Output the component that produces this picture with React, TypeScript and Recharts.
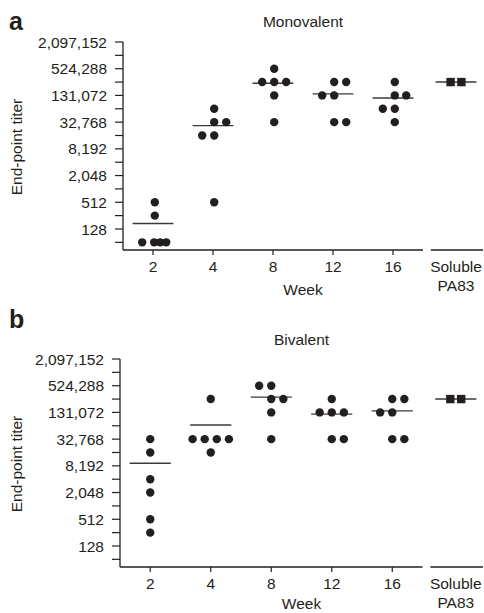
import React from 'react';
import { ScatterChart, Scatter, XAxis, YAxis, ReferenceLine } from 'recharts';

const weekLabels = ['2', '4', '8', '12', '16'];
const solubleLabel = ['Soluble', 'PA83'];
const solubleX = 5.05;

const yTickValues = [
  64, 128, 256, 512, 1024, 2048, 4096, 8192, 16384, 32768, 65536, 131072,
  262144, 524288, 1048576, 2097152,
];
const yTickLabels = [128, 512, 2048, 8192, 32768, 131072, 524288, 2097152];

// end-point titers per week group (2, 4, 8, 12, 16)
const monoTiters = [
  [512, 256, 64, 64, 64, 64],
  [65536, 32768, 32768, 16384, 16384, 512],
  [524288, 262144, 262144, 262144, 131072, 32768],
  [262144, 262144, 131072, 131072, 32768, 32768],
  [262144, 131072, 131072, 65536, 65536, 32768],
];
// horizontal spread of the dots inside each group (category units)
const monoOffsets = [
  [0.03, 0.03, -0.18, 0.02, 0.12, 0.22],
  [0.02, 0.02, 0.22, -0.18, 0.02, 0.02],
  [0.02, -0.18, 0.02, 0.22, 0.02, 0.02],
  [0.02, 0.22, -0.18, 0.02, 0.02, 0.22],
  [0.03, 0.03, 0.22, -0.17, 0.03, 0.03],
];
const monoSoluble = [262144, 262144];

const biTiters = [
  [32768, 16384, 4096, 2048, 512, 256],
  [262144, 32768, 32768, 32768, 32768, 16384],
  [524288, 524288, 262144, 262144, 131072, 32768],
  [262144, 131072, 131072, 131072, 32768, 32768],
  [262144, 262144, 131072, 131072, 32768, 32768],
];
const biOffsets = [
  [0, 0, 0, 0, 0, 0],
  [0, -0.3, -0.1, 0.1, 0.3, 0],
  [-0.2, 0, 0, 0.2, 0, 0],
  [0, -0.2, 0, 0.2, 0, 0.2],
  [0, 0.2, -0.2, 0, 0, 0.2],
];
const biSoluble = [262144, 262144];
const solubleOffsets = [-0.09, 0.09];

const INK = '#231f20';
const FONT = '"Liberation Sans", Arial, Helvetica, sans-serif';
const Y_MIN = 43;
const Y_MAX = 2097152;

const mean = (a: number[]) => a.reduce((s, v) => s + v, 0) / a.length;

const YTick = (props: any) => {
  const { x, y, payload } = props;
  const label = yTickLabels.includes(payload.value) ? payload.value.toLocaleString('en-US') : '';
  return (
    <g>
      <line x1={x - 8} x2={x} y1={y} y2={y} stroke={INK} strokeWidth={1.2} />
      <text x={x - 16} y={y} dy="0.36em" textAnchor="end" fontSize={15.5} fontFamily={FONT} fill={INK}>
        {label}
      </text>
    </g>
  );
};

const XTick = (props: any) => {
  const { x, y, payload } = props;
  if (payload.value > 4.8) {
    return (
      <g>
        <text x={x} y={y + 22} textAnchor="middle" fontSize={15.5} fontFamily={FONT} fill={INK}>
          {solubleLabel[0]}
        </text>
        <text x={x} y={y + 41} textAnchor="middle" fontSize={15.5} fontFamily={FONT} fill={INK}>
          {solubleLabel[1]}
        </text>
      </g>
    );
  }
  return (
    <g>
      <line x1={x} x2={x} y1={y} y2={y + 5} stroke={INK} strokeWidth={1.2} />
      <text x={x} y={y + 22} textAnchor="middle" fontSize={15.5} fontFamily={FONT} fill={INK}>
        {weekLabels[Math.round(payload.value)]}
      </text>
    </g>
  );
};

const Dot = (props: any) => <circle cx={props.cx} cy={props.cy} r={4.2} fill={INK} />;
const Square = (props: any) => (
  <rect x={props.cx - 4.2} y={props.cy - 4.2} width={8.4} height={8.4} fill={INK} />
);

interface PanelProps {
  top: number;
  axisLeft: number;
  letter: string;
  letterY: number;
  title: string;
  titleY: number;
  weekY: number;
  titers: number[][];
  offsets: number[][];
  soluble: number[];
}

const Panel = ({ top, axisLeft, letter, letterY, title, titleY, weekY, titers, offsets, soluble }: PanelProps) => {
  const dots = titers.flatMap((group, i) => group.map((t, j) => ({ x: i + offsets[i][j], y: t })));
  const squares = soluble.map((t, j) => ({ x: solubleX + solubleOffsets[j], y: t }));
  const groups = [...titers, soluble];
  const centerX = (axisLeft + 483) / 2;

  return (
    <div style={{ position: 'absolute', top, left: 0, width: 484, height: 300 }}>
      <ScatterChart width={484} height={300} margin={{ top: 42, right: 1, left: 0, bottom: 0 }}>
        <XAxis
          type="number"
          dataKey="x"
          domain={[-0.5, 5.5]}
          ticks={[0, 1, 2, 3, 4, solubleX]}
          interval={0}
          axisLine={false}
          tickLine={false}
          tickSize={0}
          tickMargin={0}
          height={50}
          tick={<XTick />}
        />
        <YAxis
          type="number"
          dataKey="y"
          scale="log"
          domain={[Y_MIN, Y_MAX]}
          allowDataOverflow
          ticks={yTickValues}
          interval={0}
          width={axisLeft}
          axisLine={{ stroke: INK, strokeWidth: 1.3 }}
          tickLine={false}
          tickSize={0}
          tickMargin={0}
          tick={<YTick />}
        />
        <ReferenceLine
          segment={[{ x: -0.5, y: Y_MIN }, { x: 4.5, y: Y_MIN }]}
          stroke={INK}
          strokeWidth={1.3}
        />
        <ReferenceLine
          segment={[{ x: 4.63, y: Y_MIN }, { x: 5.5, y: Y_MIN }]}
          stroke={INK}
          strokeWidth={1.3}
        />
        {groups.map((g, i) => {
          const cx = i < 5 ? i : solubleX;
          return (
            <ReferenceLine
              key={i}
              segment={[{ x: cx - 0.34, y: mean(g) }, { x: cx + 0.34, y: mean(g) }]}
              stroke="#3a3a3a"
              strokeWidth={1.4}
            />
          );
        })}
        <Scatter data={dots} shape={<Dot />} isAnimationActive={false} />
        <Scatter data={squares} shape={<Square />} isAnimationActive={false} />
      </ScatterChart>
      <svg
        width={484}
        height={300}
        style={{ position: 'absolute', top: 0, left: 0, pointerEvents: 'none', overflow: 'visible' }}
      >
        <text x={9} y={letterY} fontSize={25} fontWeight="bold" fontFamily={FONT} fill={INK}>
          {letter}
        </text>
        <text x={centerX} y={titleY} textAnchor="middle" fontSize={15.5} fontFamily={FONT} fill={INK}>
          {title}
        </text>
        <text x={centerX} y={weekY} textAnchor="middle" fontSize={15.5} fontFamily={FONT} fill={INK}>
          Week
        </text>
        <text
          transform="translate(21.5,147) rotate(-90)"
          textAnchor="middle"
          fontSize={15.5}
          fontFamily={FONT}
          fill={INK}
        >
          End-point titer
        </text>
      </svg>
    </div>
  );
};

export default function App() {
  return (
    <div
      style={{
        position: 'absolute',
        top: 0,
        left: 0,
        width: 484,
        height: 613,
        overflow: 'hidden',
        background: '#fff',
      }}
    >
      <Panel
        top={0}
        axisLeft={123}
        letter="a"
        letterY={30}
        title="Monovalent"
        titleY={27}
        weekY={295}
        titers={monoTiters}
        offsets={monoOffsets}
        soluble={monoSoluble}
      />
      <Panel
        top={317}
        axisLeft={120}
        letter="b"
        letterY={11}
        title="Bivalent"
        titleY={28}
        weekY={292}
        titers={biTiters}
        offsets={biOffsets}
        soluble={biSoluble}
      />
    </div>
  );
}
